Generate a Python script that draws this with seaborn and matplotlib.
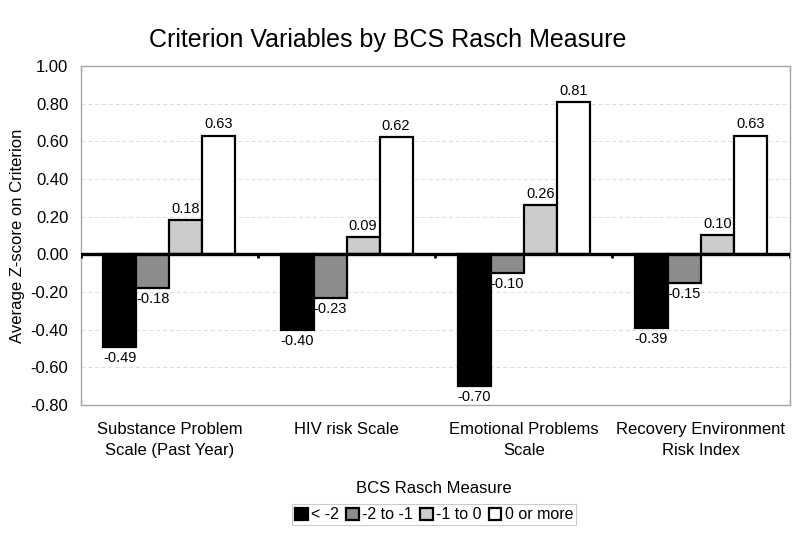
import numpy as np
import pandas as pd
import matplotlib
matplotlib.use("Agg")
import matplotlib.pyplot as plt
import seaborn as sns

# chart data
categories = ["Substance Problem\nScale (Past Year)", "HIV risk Scale",
              "Emotional Problems\nScale", "Recovery Environment\nRisk Index"]
levels = ["< -2", "-2 to -1", "-1 to 0", "0 or more"]
lt_minus2 = [-0.49, -0.40, -0.70, -0.39]
minus2_to_minus1 = [-0.18, -0.23, -0.10, -0.15]
minus1_to_0 = [0.18, 0.09, 0.26, 0.10]
zero_or_more = [0.63, 0.62, 0.81, 0.63]
level_colors = ["#000000", "#8c8c8c", "#cccccc", "#ffffff"]
yticks = [-0.8, -0.6, -0.4, -0.2, 0.0, 0.2, 0.4, 0.6, 0.8, 1.0]

rows = []
for lev, vals in zip(levels, [lt_minus2, minus2_to_minus1, minus1_to_0, zero_or_more]):
    for cat, v in zip(categories, vals):
        rows.append({"category": cat, "level": lev, "value": v})
df = pd.DataFrame(rows)

sns.set_theme(style="white")
plt.rcParams["font.family"] = ["Liberation Sans", "DejaVu Sans"]
plt.rcParams["text.color"] = "black"
plt.rcParams["axes.labelcolor"] = "black"
plt.rcParams["xtick.color"] = "black"
plt.rcParams["ytick.color"] = "black"

fig = plt.figure(figsize=(8, 5.34), dpi=100)
ax = fig.add_axes([0.101, 0.2416, 0.886, 0.635])

sns.barplot(data=df, x="category", y="value", hue="level", order=categories,
            hue_order=levels, palette=dict(zip(levels, level_colors)),
            width=0.745, edgecolor="black", linewidth=1.6, saturation=1,
            errorbar=None, legend=True, ax=ax)

for cont in ax.containers:
    ax.bar_label(cont, fmt="%.2f", padding=3, fontsize=10.5, color="black")

ax.set_ylim(-0.8, 1.0)
ax.set_xlim(-0.5, len(categories) - 0.5)
ax.set_yticks(yticks)
ax.set_yticklabels(["%.2f" % t for t in yticks], fontsize=12)
ax.yaxis.grid(True, color="#dcdcdc", linestyle=(0, (4, 3)), linewidth=0.7)
ax.set_axisbelow(True)
ax.tick_params(axis="y", length=0, pad=9)
ax.tick_params(axis="x", length=0, labelsize=12, pad=12)
for lab in ax.get_xticklabels():
    lab.set_linespacing(1.5)
ax.set_xlabel("")
ax.set_ylabel("Average Z-score on Criterion", fontsize=12, labelpad=4)

for s in ["left", "bottom", "right", "top"]:
    ax.spines[s].set_color("#a6a6a6")
    ax.spines[s].set_linewidth(1.0)

# heavy zero line with small category separator ticks
ax.axhline(0, color="black", linewidth=2.4, zorder=5)
ax.vlines(np.arange(-0.5, len(categories)), -0.022, 0, color="black",
          linewidth=2, zorder=5)

fig.text(0.485, 0.925, "Criterion Variables by BCS Rasch Measure",
         ha="center", va="center", fontsize=18)

handles, labels = ax.get_legend_handles_labels()
ax.get_legend().remove()
fig.text(0.5425, 0.086, "BCS Rasch Measure", ha="center", va="center", fontsize=12)
leg = fig.legend(handles, labels, loc="center", bbox_to_anchor=(0.5425, 0.036),
                 ncol=4, fontsize=11.5, frameon=True, fancybox=False,
                 handlelength=0.8, handleheight=0.8, handletextpad=0.2,
                 columnspacing=0.45, borderpad=0.2, borderaxespad=0)
leg.get_frame().set_edgecolor("#bfbfbf")
leg.get_frame().set_linewidth(0.8)

fig.savefig("out.png", dpi=100)
